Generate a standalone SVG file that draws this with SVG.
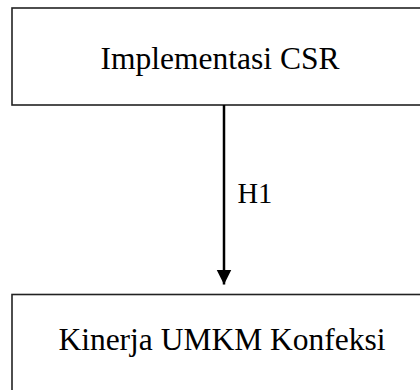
<svg xmlns="http://www.w3.org/2000/svg" width="420" height="390" viewBox="0 0 420 390">
<defs>
<style>
.box{fill:#fff;stroke:#222;stroke-width:1.6}
.lbl{font-family:"Liberation Serif","Times New Roman",serif;fill:#000}
.conn{stroke:#000;stroke-width:2.5;fill:none}
</style>
<marker id="ah" markerUnits="userSpaceOnUse" markerWidth="16" markerHeight="16" refX="15" refY="7.5" orient="auto">
<path d="M0,0 L15,7.5 L0,15 Z" fill="#000"/>
</marker>
</defs>
<rect width="420" height="390" fill="#fff"/>
<g id="node-csr">
<rect class="box" x="12" y="8" width="420" height="97"/>
<text class="lbl" x="220" y="69" font-size="31.5" text-anchor="middle">Implementasi CSR</text>
</g>
<g id="node-kinerja">
<rect class="box" x="12" y="294.5" width="420" height="120"/>
<text class="lbl" x="222" y="350" font-size="31.5" text-anchor="middle">Kinerja UMKM Konfeksi</text>
</g>
<g id="connectors">
<line class="conn" x1="224" y1="105" x2="224" y2="284.5" marker-end="url(#ah)"/>
<text class="lbl" x="237.5" y="202.5" font-size="28.5">H1</text>
</g>
</svg>
